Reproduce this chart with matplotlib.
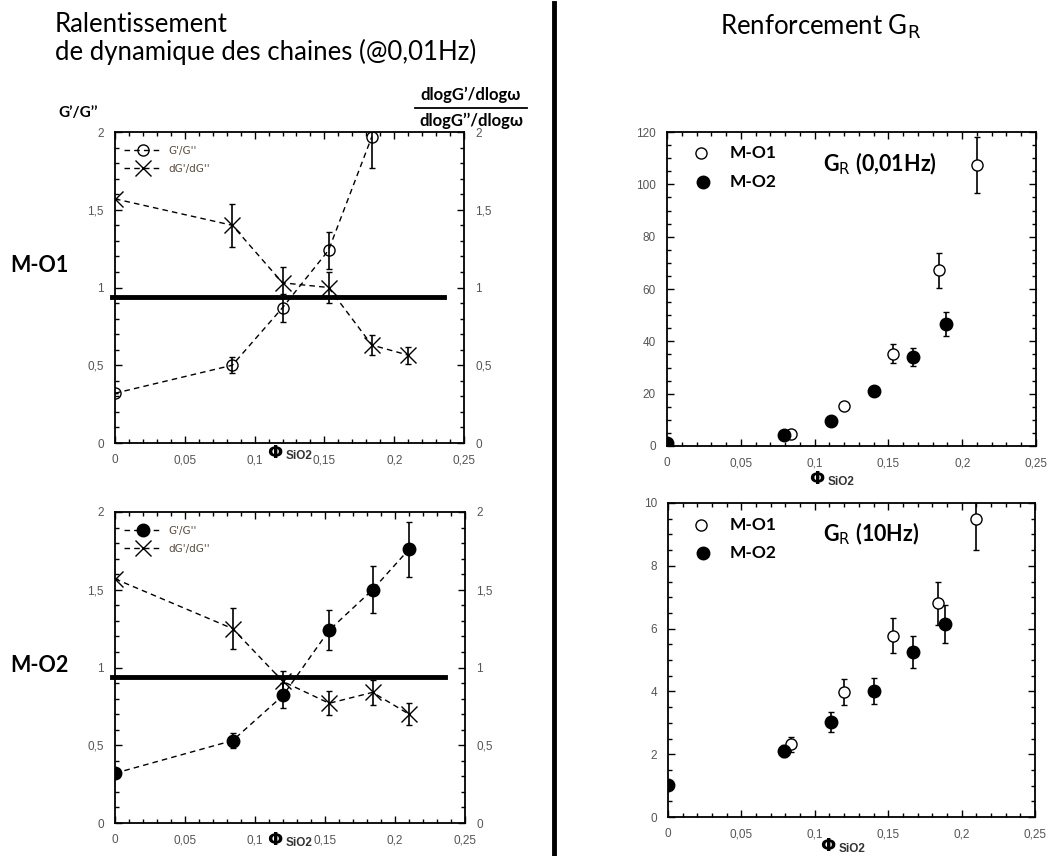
import numpy as np
import matplotlib
matplotlib.use("Agg")
import matplotlib.pyplot as plt
from matplotlib.ticker import MultipleLocator, FuncFormatter
from matplotlib.lines import Line2D

# --- data ---
# left panels: G'/G'' and dG'/dG'' versus phi SiO2
phi_mo1 = [0.0, 0.084, 0.120, 0.153, 0.184]
ratio_mo1 = [0.32, 0.50, 0.87, 1.24, 1.97]
ratio_mo1_err = [0.0, 0.05, 0.09, 0.12, 0.20]
phi_mo1_d = [0.0, 0.084, 0.120, 0.153, 0.184, 0.210]
dratio_mo1 = [1.57, 1.40, 1.03, 1.00, 0.63, 0.565]
dratio_mo1_err = [0.0, 0.14, 0.10, 0.10, 0.065, 0.055]

phi_mo2 = [0.0, 0.084, 0.120, 0.153, 0.184, 0.210]
ratio_mo2 = [0.32, 0.53, 0.82, 1.24, 1.50, 1.76]
ratio_mo2_err = [0.0, 0.05, 0.08, 0.13, 0.15, 0.175]
dratio_mo2 = [1.57, 1.25, 0.91, 0.77, 0.84, 0.70]
dratio_mo2_err = [0.0, 0.13, 0.07, 0.077, 0.08, 0.07]

hline_mo1 = 0.94
hline_mo2 = 0.937

# right panels: reinforcement G_R
gr_phi_mo1 = [0.084, 0.120, 0.153, 0.184, 0.210]
gr001_mo1 = [4.7, 15.4, 35.3, 67.1, 107.3]
gr001_mo1_err = [0.0, 0.0, 3.5, 6.7, 10.8]
gr_phi_mo2 = [0.0, 0.079, 0.111, 0.140, 0.167, 0.189]
gr001_mo2 = [1.1, 4.3, 9.6, 21.0, 34.0, 46.8]
gr001_mo2_err = [0.0, 0.0, 0.0, 1.5, 3.5, 4.6]

gr10_mo1 = [2.31, 3.98, 5.78, 6.81, 9.49]
gr10_mo1_err = [0.25, 0.41, 0.57, 0.68, 1.0]
gr10_mo2 = [1.01, 2.10, 3.03, 4.02, 5.26, 6.14]
gr10_mo2_err = [0.0, 0.2, 0.32, 0.42, 0.5, 0.6]

W, H = 1050, 856
fig = plt.figure(figsize=(W / 100, H / 100), dpi=100)


def fx(x):
    return x / W


def fy(y):
    return 1 - y / H


comma = FuncFormatter(lambda v, p: ("%g" % round(v, 4)).replace(".", ","))
tick_font = dict(family="Liberation Sans", size=8.5, color="#555555")
title_font = "Lato"
dash = (0, (4, 3))


def style_axes(ax, xmaj, xmin, ymaj, ymin, right_labels=False):
    ax.xaxis.set_major_locator(MultipleLocator(xmaj))
    ax.xaxis.set_minor_locator(MultipleLocator(xmin))
    ax.yaxis.set_major_locator(MultipleLocator(ymaj))
    ax.yaxis.set_minor_locator(MultipleLocator(ymin))
    ax.xaxis.set_major_formatter(comma)
    ax.yaxis.set_major_formatter(comma)
    ax.tick_params(which="both", direction="in", top=True, right=True,
                   labelright=right_labels, width=1, color="black")
    ax.tick_params(which="major", length=5, pad=8)
    ax.tick_params(which="minor", length=3)
    for lab in ax.get_xticklabels() + ax.get_yticklabels():
        lab.set_fontfamily(tick_font["family"])
        lab.set_fontsize(tick_font["size"])
        lab.set_color(tick_font["color"])
    for s in ax.spines.values():
        s.set_linewidth(1.3)
    ax.set_xlim(0, 0.25)


def left_panel(rect, phi_r, ratio, ratio_err, phi_d, dratio, dratio_err,
               hline, filled):
    ax = fig.add_axes(rect)
    fc = "black" if filled else "none"
    ms = 9 if filled else 8
    ax.errorbar(phi_r, ratio, yerr=ratio_err, fmt="o", ms=ms, mfc=fc,
                mec="black", mew=1, color="black", ls=dash, lw=1,
                elinewidth=1.2, capsize=2.5)
    ax.errorbar(phi_d, dratio, yerr=dratio_err, fmt="x", ms=11,
                mec="black", mew=1, color="black", ls=dash, lw=1,
                elinewidth=1.2, capsize=2.5)
    ax.plot([-0.002, 0.236], [hline, hline], color="black", lw=3.5,
            clip_on=False)
    ax.set_ylim(0, 2)
    style_axes(ax, 0.05, 0.01, 0.5, 0.1, right_labels=True)
    handles = [
        Line2D([], [], color="black", ls=dash, lw=1, marker="o", ms=ms,
               mfc=fc, mec="black", mew=1),
        Line2D([], [], color="black", ls=dash, lw=1, marker="x", ms=11,
               mec="black", mew=1),
    ]
    leg = ax.legend(handles, ["G'/G''", "dG'/dG''"], loc="upper left",
                    frameon=False, fontsize=7.5, handlelength=3.6,
                    numpoints=1, handletextpad=0.6, labelspacing=0.75,
                    bbox_to_anchor=(0.0, 0.985))
    for t in leg.get_texts():
        t.set_color("#5a4a3a")
    return ax


def right_panel(rect, ymax, ymaj, ymin, y1, e1, y2, e2):
    ax = fig.add_axes(rect)
    ax.errorbar(gr_phi_mo1, y1, yerr=e1, fmt="o", ms=8, mfc="white",
                mec="black", mew=1, ecolor="black", elinewidth=1.2,
                capsize=2.5, ls="none")
    ax.errorbar(gr_phi_mo2, y2, yerr=e2, fmt="o", ms=9, mfc="black",
                mec="black", ecolor="black", elinewidth=1.2, capsize=2.5,
                ls="none")
    ax.set_ylim(0, ymax)
    style_axes(ax, 0.05, 0.01, ymaj, ymin)
    return ax


ax1 = left_panel([fx(115), fy(443), 349 / W, 311 / H], phi_mo1, ratio_mo1,
                 ratio_mo1_err, phi_mo1_d, dratio_mo1, dratio_mo1_err,
                 hline_mo1, filled=False)
ax2 = left_panel([fx(115), fy(823), 350 / W, 311 / H], phi_mo2, ratio_mo2,
                 ratio_mo2_err, phi_mo2, dratio_mo2, dratio_mo2_err,
                 hline_mo2, filled=True)
ax3 = right_panel([fx(667), fy(446), 369 / W, 314 / H], 120, 20, 5,
                  gr001_mo1, gr001_mo1_err, gr001_mo2, gr001_mo2_err)
ax4 = right_panel([fx(668), fy(817), 367 / W, 314 / H], 10, 2, 0.5,
                  gr10_mo1, gr10_mo1_err, gr10_mo2, gr10_mo2_err)

# right panel legends and labels
for ax, y_o, y_f, lab, y_lab in [(ax3, 153, 182, "(0,01Hz)", 164),
                                 (ax4, 525, 553, "(10Hz)", 534)]:
    fig.add_artist(Line2D([fx(701)], [fy(y_o)], marker="o", ms=8,
                          mfc="white", mec="black", mew=1, ls="none"))
    fig.add_artist(Line2D([fx(703)], [fy(y_f)], marker="o", ms=9,
                          mfc="black", mec="black", ls="none"))
    fig.text(fx(730), fy(y_o), "M-O1", fontsize=12.5, fontweight="bold",
             family=title_font, va="center")
    fig.text(fx(730), fy(y_f), "M-O2", fontsize=12.5, fontweight="bold",
             family=title_font, va="center")
    fig.text(fx(823), fy(y_lab), r"G$_{\mathrm{R}}$ " + lab, fontsize=15.5,
             fontweight="bold", family=title_font, va="center")

# phi SiO2 axis labels
for x, y in [(275, 453), (275, 840), (817, 479), (828, 846)]:
    fig.text(fx(x), fy(y), "\u03a6", fontsize=13, fontweight="bold",
             family="DejaVu Sans", ha="center", va="center")
    fig.text(fx(x + 11), fy(y + 3), "SiO2", fontsize=8.5, fontweight="bold",
             family="Liberation Sans", color="#333333", va="center")

# left panels side labels
fig.text(fx(10), fy(265), "M-O1", fontsize=15.5, fontweight="bold",
         family=title_font, va="center")
fig.text(fx(10), fy(665), "M-O2", fontsize=15.5, fontweight="bold",
         family=title_font, va="center")
fig.text(fx(58), fy(113), "G\u2019/G\u2019\u2019", fontsize=11,
         fontweight="bold", family=title_font, va="center")
fig.text(fx(471), fy(95), "dlogG\u2019/dlog\u03c9", fontsize=12,
         fontweight="bold", family=[title_font, "DejaVu Sans"],
         ha="center", va="center")
fig.add_artist(Line2D([fx(415), fx(527)], [fy(108), fy(108)], color="black",
                      lw=1.3))
fig.text(fx(471), fy(121), "dlogG\u2019\u2019/dlog\u03c9", fontsize=12,
         fontweight="bold", family=[title_font, "DejaVu Sans"],
         ha="center", va="center")

# titles
fig.text(fx(55), fy(25), "Ralentissement", fontsize=18.5, family=title_font,
         va="center")
fig.text(fx(55), fy(52), "de dynamique des chaines (@0,01Hz)", fontsize=18.5,
         family=title_font, va="center")
fig.text(fx(720), fy(27), r"Renforcement G$_{\mathrm{R}}$", fontsize=18.5,
         family=title_font, va="center")

# divider
fig.add_artist(Line2D([fx(554), fx(554)], [0, fy(3)], color="black", lw=3.5))

fig.savefig("out.png", dpi=100)
